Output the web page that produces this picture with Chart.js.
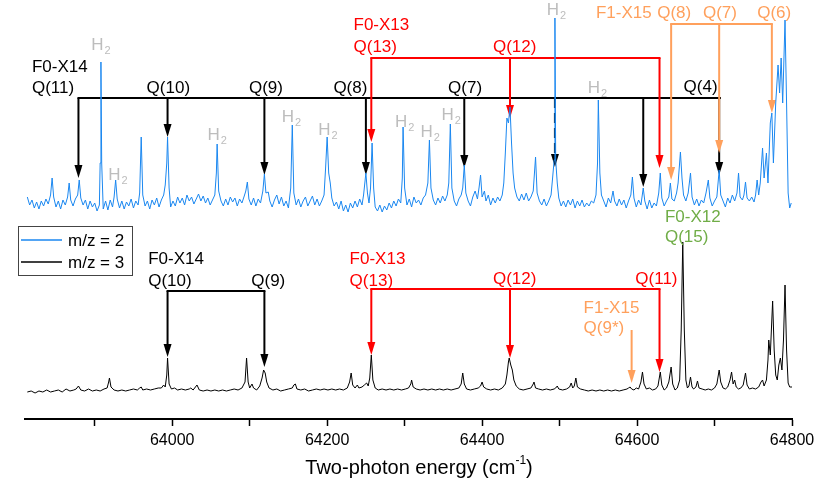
<!DOCTYPE html>
<html>
<head>
<meta charset="utf-8">
<script src="https://cdn.jsdelivr.net/npm/chart.js@4/dist/chart.umd.min.js"></script>
<style>
  html, body { margin: 0; padding: 0; background: #fff; }
  canvas { display: block; }
</style>
</head>
<body>
<canvas id="chart" width="830" height="494"></canvas>
<script>
// Two-photon REMPI scan. Energies in cm-1, signal in
// arbitrary units (baseline ~0). The m/z = 2 trace is stacked above m/z = 3.
const mz2Label = "m/z = 2";
const mz3Label = "m/z = 3";

const mz2Points = [
  [63813, 6], [63816, -2], [63819, 3], [63822, -5], [63825, 1], [63828, -6], [63831, 2], [63834, -3],
  [63837, 4], [63840, -1], [63843, 8], [63845, 25], [63847, 6], [63850, -4], [63853, 2], [63856, -6],
  [63859, 3], [63862, -2], [63865, 6], [63867, 20], [63869, 3], [63872, -3], [63875, 4], [63878, 8],
  [63880, 23], [63882, 5], [63885, -2], [63888, 3], [63891, -6], [63894, 2], [63897, -4], [63900, 0],
  [63903, -8], [63906, -2], [63907, 40], [63908, 141], [63909, 40], [63911, -6], [63914, 2], [63917, -7],
  [63920, 3], [63923, -4], [63925, 6], [63927, 23], [63929, 4], [63932, -5], [63935, 2], [63938, -6],
  [63941, 1], [63944, -3], [63947, 4], [63950, -5], [63953, 2], [63956, -2], [63958, 10], [63960, 66],
  [63962, 8], [63965, -3], [63968, 2], [63971, -6], [63974, 3], [63977, -2], [63980, 5], [63983, -4],
  [63986, 3], [63989, 8], [63991, 18], [63993, 40], [63994, 66], [63996, 15], [63998, -4], [64001, 2],
  [64004, -3], [64007, 6], [64010, 0], [64013, 5], [64016, -2], [64019, 8], [64022, 2], [64025, 6],
  [64028, -1], [64031, 4], [64034, 9], [64037, 2], [64040, 7], [64043, 0], [64046, 5], [64049, -2],
  [64052, 3], [64055, 8], [64057, 30], [64058, 59], [64060, 12], [64063, 2], [64066, -3], [64069, 4],
  [64072, -2], [64075, 6], [64078, 1], [64081, 5], [64084, -3], [64087, 4], [64090, 0], [64093, 7],
  [64095, 12], [64097, 21], [64099, 4], [64102, -2], [64105, 5], [64108, -3], [64111, 4], [64114, 0],
  [64117, 12], [64119, 29], [64121, 10], [64124, 11], [64126, 2], [64129, -4], [64132, 3], [64135, 8],
  [64138, -1], [64141, 6], [64144, -3], [64147, 2], [64150, -5], [64153, 15], [64155, 78], [64157, 10],
  [64160, -2], [64163, 4], [64166, -4], [64169, 2], [64172, 6], [64175, -3], [64178, 2], [64181, 7],
  [64184, -2], [64187, 4], [64190, -3], [64193, 2], [64196, 8], [64198, 35], [64200, 66], [64202, 30],
  [64204, 20], [64206, 5], [64209, -3], [64212, 1], [64215, -6], [64218, 2], [64221, -8], [64224, -2],
  [64227, -9], [64230, 0], [64233, -5], [64236, 2], [64239, -4], [64242, 4], [64245, -2], [64247, 8],
  [64250, 30], [64252, 10], [64254, 0], [64256, 15], [64258, 60], [64260, 15], [64262, -4], [64265, -8],
  [64268, -2], [64271, -9], [64274, -3], [64277, -7], [64280, 0], [64283, -5], [64286, 2], [64289, -3],
  [64292, 4], [64295, 0], [64297, 25], [64298, 76], [64300, 15], [64303, -2], [64306, 4], [64309, -4],
  [64312, 6], [64315, 0], [64318, 3], [64321, -2], [64324, 5], [64327, 8], [64330, 20], [64332, 63],
  [64334, 15], [64337, 3], [64340, -2], [64343, 5], [64346, 0], [64349, 7], [64352, 2], [64355, 8],
  [64357, 20], [64359, 79], [64361, 15], [64364, 2], [64367, -3], [64370, 4], [64373, 8], [64375, 15],
  [64377, 38], [64379, 10], [64382, 2], [64385, -3], [64388, 6], [64391, 12], [64394, 4], [64396, 15],
  [64398, 28], [64400, 6], [64403, 12], [64405, 2], [64408, 8], [64411, -2], [64414, 5], [64417, 0],
  [64420, 6], [64423, 2], [64426, 8], [64428, 20], [64430, 50], [64432, 85], [64434, 80], [64436, 96],
  [64438, 60], [64440, 30], [64442, 15], [64445, 6], [64448, 2], [64451, 9], [64454, 3], [64457, 10],
  [64460, 2], [64463, 6], [64466, 12], [64469, 46], [64471, 10], [64474, 2], [64477, -2], [64480, 4],
  [64483, -3], [64486, 2], [64489, 8], [64491, 25], [64493, 43], [64494, 185], [64495, 43], [64497, 20],
  [64499, 5], [64502, -3], [64505, 2], [64508, -4], [64511, 3], [64514, -2], [64517, 4], [64520, -5],
  [64523, 2], [64526, -3], [64529, 3], [64532, -4], [64535, 0], [64538, -3], [64541, 2], [64544, 0],
  [64547, 8], [64549, 40], [64550, 103], [64552, 30], [64554, 8], [64557, 2], [64560, -4], [64563, 5],
  [64566, 0], [64569, 12], [64571, 2], [64574, -3], [64577, 4], [64580, -2], [64583, 3], [64586, -5],
  [64589, 2], [64592, 8], [64594, 26], [64596, 5], [64599, -4], [64602, 3], [64605, -2], [64608, 15],
  [64610, 2], [64613, -6], [64616, 3], [64619, -5], [64622, 0], [64625, -3], [64628, 10], [64630, 30],
  [64632, 5], [64635, -3], [64638, 2], [64641, 6], [64643, 20], [64645, 4], [64648, 2], [64651, 10],
  [64653, 20], [64656, 51], [64658, 25], [64660, 8], [64663, 2], [64666, 10], [64669, 30], [64671, 6],
  [64674, -2], [64677, 4], [64680, -3], [64683, 3], [64686, 0], [64689, 10], [64692, 23], [64694, 5],
  [64697, -3], [64700, 2], [64703, 6], [64706, 33], [64708, 8], [64711, 2], [64714, -4], [64717, 5],
  [64720, 0], [64723, 8], [64726, 2], [64729, 10], [64731, 30], [64733, 6], [64736, 3], [64738, 8],
  [64740, 21], [64742, 5], [64745, 2], [64748, 6], [64751, 1], [64753, 8], [64755, 23], [64757, 8],
  [64759, 20], [64762, 55], [64764, 25], [64767, 50], [64769, 20], [64772, 80], [64774, 90], [64776, 40],
  [64779, 100], [64782, 138], [64784, 110], [64786, 145], [64788, 100], [64791, 183], [64793, 100],
  [64795, 10], [64797, -5], [64799, 0],
];

const mz3Points = [
  [63813, -2], [63818, -1], [63823, -3], [63828, -1], [63833, -2], [63838, 0], [63843, -2], [63848, -1],
  [63853, 0], [63858, -2], [63863, 1], [63868, -1], [63873, 0], [63876, 1], [63879, 4], [63882, 0],
  [63887, -1], [63892, 1], [63897, -1], [63902, 0], [63907, -1], [63912, 1], [63916, 2], [63918, 8],
  [63919, 12], [63921, 3], [63925, 0], [63930, -1], [63935, 0], [63940, -1], [63945, 0], [63950, 1],
  [63955, 0], [63958, 2], [63960, 3], [63962, 0], [63967, 1], [63972, 0], [63977, 1], [63982, 2],
  [63986, 2], [63989, 5], [63991, 3], [63993, 15], [63994, 32], [63996, 6], [63999, 1], [64003, 2],
  [64007, 0], [64012, 1], [64017, 0], [64022, 1], [64024, 2], [64027, 0], [64032, 5], [64035, 0],
  [64040, -1], [64045, 0], [64050, -1], [64055, 0], [64060, -1], [64065, 0], [64070, -1], [64075, 0],
  [64080, 1], [64085, 0], [64090, 2], [64094, 8], [64096, 32], [64098, 8], [64100, 2], [64103, 6],
  [64105, 2], [64109, 0], [64113, 4], [64116, 12], [64118, 20], [64120, 17], [64122, 8], [64125, 2],
  [64130, 0], [64135, 1], [64140, -1], [64145, 0], [64150, 1], [64155, 2], [64157, 5], [64159, 6],
  [64161, 1], [64166, 0], [64171, 1], [64176, -1], [64181, 0], [64186, 1], [64191, 0], [64196, 1],
  [64201, 0], [64206, 1], [64211, 0], [64216, 1], [64221, 0], [64226, 2], [64229, 8], [64231, 17],
  [64233, 5], [64236, 2], [64239, 5], [64241, 2], [64245, 3], [64248, 5], [64251, 7], [64253, 4],
  [64255, 12], [64257, 35], [64259, 10], [64262, 2], [64266, 0], [64271, 1], [64276, 0], [64281, 1],
  [64286, 0], [64291, 1], [64296, 0], [64301, 1], [64305, 2], [64308, 6], [64309, 10], [64311, 3],
  [64315, 1], [64320, 0], [64325, 1], [64330, 0], [64335, 1], [64340, 0], [64345, 1], [64350, 0],
  [64355, 1], [64360, 0], [64365, 1], [64370, 2], [64373, 6], [64375, 17], [64377, 6], [64380, 1],
  [64385, 0], [64390, 1], [64395, 2], [64398, 4], [64400, 8], [64402, 3], [64406, 1], [64411, 0],
  [64416, 1], [64421, 0], [64426, 2], [64430, 6], [64432, 15], [64434, 28], [64435, 32], [64437, 25],
  [64439, 20], [64441, 10], [64444, 4], [64448, 1], [64453, 0], [64458, 1], [64463, 2], [64466, 6],
  [64467, 8], [64469, 2], [64473, 1], [64478, 0], [64483, 1], [64488, 0], [64493, 1], [64495, 2],
  [64497, 4], [64499, 1], [64504, 0], [64509, 1], [64513, 3], [64515, 7], [64517, 2], [64519, 4],
  [64521, 12], [64523, 3], [64527, 1], [64532, 0], [64537, -1], [64542, 0], [64547, -1], [64552, 0],
  [64557, -1], [64562, 0], [64567, -1], [64572, 0], [64577, -1], [64582, 0], [64587, 1], [64589, 2],
  [64591, 3], [64593, 1], [64596, 0], [64599, 2], [64602, 1], [64605, 8], [64607, 18], [64609, 6],
  [64612, 1], [64616, 2], [64620, 0], [64624, 1], [64627, 4], [64630, 18], [64632, 5], [64635, 0],
  [64638, 2], [64641, 8], [64644, 23], [64646, 6], [64649, 0], [64652, 2], [64655, 10], [64657, 60],
  [64659, 148], [64661, 60], [64663, 10], [64665, 2], [64667, 4], [64669, 13], [64671, 3], [64673, 1],
  [64676, 3], [64678, 9], [64680, 2], [64684, 1], [64688, 0], [64692, 1], [64696, 0], [64700, 2],
  [64703, 6], [64706, 20], [64708, 8], [64711, 2], [64714, 1], [64717, 3], [64720, 10], [64722, 18],
  [64724, 6], [64726, 10], [64728, 3], [64731, 1], [64734, 2], [64737, 5], [64740, 17], [64742, 5],
  [64745, 1], [64749, 2], [64753, 1], [64757, 3], [64760, 8], [64762, 10], [64764, 4], [64767, 10],
  [64769, 30], [64770, 50], [64772, 35], [64775, 89], [64777, 40], [64779, 15], [64781, 10], [64783, 25],
  [64785, 32], [64787, 20], [64789, 50], [64791, 105], [64793, 40], [64795, 7], [64797, 3], [64800, 3],
];

const xTickMarks = [63900, 64000, 64100, 64200, 64300, 64400, 64500, 64600, 64700, 64800];
const xTickValues = [64000, 64200, 64400, 64600, 64800];
const xTitle = "Two-photon energy (cm";
const xTitleSup = "-1";

// stacking offsets and annotation layout (plot units: 0 = axis line)
const MZ2_OFFSET = 216;
const MZ3_OFFSET = 29;

const BLACK = "#000000", RED = "#ff0000", ORANGE = "#ffa05c", GREEN = "#70ad47", GREY = "#bdbdbd";
const FONT = '"Liberation Sans", Arial, sans-serif';

// brackets: level line, then arrows [energy, tip, dashed]
const brackets = [
  { color: BLACK, level: 321, from: 63879, to: 64707,
    arrows: [[63879, 241], [63994, 282], [64119, 244], [64250, 244], [64377, 251], [64494, 252, true], [64608, 232], [64706, 244]] },
  { color: RED, level: 361, from: 64257, to: 64629,
    arrows: [[64257, 277], [64436, 301], [64629, 251]] },
  { color: ORANGE, level: 395, from: 64644, to: 64774,
    arrows: [[64644, 239], [64706, 266], [64774, 306]] },
  { color: BLACK, level: 128, from: 63994, to: 64119,
    arrows: [[63994, 62], [64119, 52]] },
  { color: RED, level: 130, from: 64257, to: 64629,
    arrows: [[64257, 64], [64436, 61], [64629, 47]] },
  { color: ORANGE, level: 89, from: 64593, to: 64593,
    arrows: [[64593, 36]] },
];

// labels: text, energy, level, colour, align
const labels = [
  ["F0-X14", 63819, 352, BLACK, "left"], ["Q(11)", 63819, 331, BLACK, "left"],
  ["Q(10)", 63995, 331, BLACK, "center"], ["Q(9)", 64121, 331, BLACK, "center"],
  ["Q(8)", 64230, 331, BLACK, "center"], ["Q(7)", 64378, 331, BLACK, "center"],
  ["Q(4)", 64682, 332, BLACK, "center"],
  ["F0-X13", 64234, 394, RED, "left"], ["Q(13)", 64234, 372, RED, "left"],
  ["Q(12)", 64442, 372, RED, "center"],
  ["F1-X15", 64547, 406, ORANGE, "left"], ["Q(8)", 64626, 406, ORANGE, "left"],
  ["Q(7)", 64707, 406, ORANGE, "center"], ["Q(6)", 64777, 406, ORANGE, "center"],
  ["F0-X14", 63969, 160, BLACK, "left"], ["Q(10)", 63969, 138, BLACK, "left"],
  ["Q(9)", 64124, 138, BLACK, "center"],
  ["F0-X13", 64229, 160, RED, "left"], ["Q(13)", 64229, 138, RED, "left"],
  ["Q(12)", 64442, 140, RED, "center"], ["Q(11)", 64625, 140, RED, "center"],
  ["F1-X15", 64531, 111, ORANGE, "left"], ["Q(9*)", 64531, 91, ORANGE, "left"],
  ["F0-X12", 64636, 202, GREEN, "left"], ["Q(15)", 64636, 182, GREEN, "left"],
];

// H2 lines in the m/z = 2 trace
const h2Marks = [
  [63908, 374], [63930, 244], [64058, 284], [64154, 302], [64201, 289],
  [64300, 297], [64333, 287], [64360, 304], [64496, 409], [64549, 331],
];

function drawArrow(ctx, x, yFrom, yTip, color, dashed) {
  const head = 13, half = 4;
  ctx.save();
  ctx.strokeStyle = color;
  ctx.fillStyle = color;
  ctx.lineWidth = 2;
  if (dashed) ctx.setLineDash([10, 5]);
  ctx.beginPath();
  ctx.moveTo(x, yFrom);
  ctx.lineTo(x, yTip - head + 1);
  ctx.stroke();
  ctx.setLineDash([]);
  ctx.beginPath();
  ctx.moveTo(x - half, yTip - head);
  ctx.lineTo(x + half, yTip - head);
  ctx.lineTo(x, yTip);
  ctx.closePath();
  ctx.fill();
  ctx.restore();
}

const annotations = {
  id: "annotations",
  beforeDatasetsDraw(chart) {
    const { ctx, scales: { x, y } } = chart;
    for (const b of brackets) {
      const level = y.getPixelForValue(b.level);
      if (b.from !== b.to) {
        ctx.save();
        ctx.strokeStyle = b.color;
        ctx.lineWidth = 2;
        ctx.beginPath();
        ctx.moveTo(x.getPixelForValue(b.from) - 1, level);
        ctx.lineTo(x.getPixelForValue(b.to) + 1, level);
        ctx.stroke();
        ctx.restore();
      }
      for (const [e, tip, dashed] of b.arrows) {
        drawArrow(ctx, x.getPixelForValue(e), level, y.getPixelForValue(tip), b.color, dashed);
      }
    }
  },
  afterDatasetsDraw(chart) {
    const { ctx, scales: { x, y } } = chart;
    ctx.save();
    ctx.textBaseline = "middle";
    ctx.font = `17px ${FONT}`;
    for (const [text, e, lv, color, align] of labels) {
      ctx.fillStyle = color;
      ctx.textAlign = align;
      ctx.fillText(text, x.getPixelForValue(e), y.getPixelForValue(lv));
    }
    // H2 tags with subscript
    ctx.fillStyle = GREY;
    ctx.textAlign = "left";
    for (const [e, lv] of h2Marks) {
      ctx.font = `17px ${FONT}`;
      const wH = ctx.measureText("H").width;
      ctx.font = `11px ${FONT}`;
      const w2 = ctx.measureText("2").width;
      const left = x.getPixelForValue(e) - (wH + w2 + 1) / 2;
      const cy = y.getPixelForValue(lv);
      ctx.font = `17px ${FONT}`;
      ctx.fillText("H", left, cy);
      ctx.font = `11px ${FONT}`;
      ctx.fillText("2", left + wH + 1, cy + 6);
    }
    ctx.restore();
  },
  afterDraw(chart) {
    const { ctx } = chart;
    ctx.save();
    // legend
    ctx.fillStyle = "#fff";
    ctx.fillRect(18, 226, 114, 50);
    ctx.strokeStyle = "#444";
    ctx.lineWidth = 1;
    ctx.strokeRect(18.5, 226.5, 114, 49);
    chart.data.datasets.forEach((ds, i) => {
      const cy = 240 + i * 22;
      ctx.strokeStyle = ds.borderColor;
      ctx.lineWidth = 1.5;
      ctx.beginPath();
      ctx.moveTo(21, cy);
      ctx.lineTo(62, cy);
      ctx.stroke();
      ctx.fillStyle = "#000";
      ctx.font = `17px ${FONT}`;
      ctx.textBaseline = "middle";
      ctx.textAlign = "left";
      ctx.fillText(ds.label, 68, cy + 1);
    });
    // axis title with superscript
    ctx.font = `20px ${FONT}`;
    const w1 = ctx.measureText(xTitle).width;
    ctx.font = `12px ${FONT}`;
    const w2 = ctx.measureText(xTitleSup).width;
    ctx.font = `20px ${FONT}`;
    const w3 = ctx.measureText(")").width;
    const left = 419 - (w1 + w2 + w3) / 2;
    ctx.fillStyle = "#000";
    ctx.textBaseline = "middle";
    ctx.textAlign = "left";
    ctx.fillText(xTitle, left, 468);
    ctx.font = `12px ${FONT}`;
    ctx.fillText(xTitleSup, left + w1, 461);
    ctx.font = `20px ${FONT}`;
    ctx.fillText(")", left + w1 + w2, 468);
    ctx.restore();
  },
};

new Chart(document.getElementById("chart"), {
  type: "line",
  data: {
    datasets: [
      { label: mz2Label, data: mz2Points.map(([e, v]) => ({ x: e, y: v + MZ2_OFFSET })),
        borderColor: "#1a87f0", borderWidth: 1, pointRadius: 0, tension: 0 },
      { label: mz3Label, data: mz3Points.map(([e, v]) => ({ x: e, y: v + MZ3_OFFSET })),
        borderColor: "#000000", borderWidth: 1, pointRadius: 0, tension: 0 },
    ],
  },
  options: {
    responsive: false,
    animation: false,
    devicePixelRatio: 1,
    layout: { padding: { left: 25, right: 38, top: 0, bottom: 0 } },
    plugins: { legend: { display: false }, tooltip: { enabled: false } },
    scales: {
      x: {
        type: "linear", min: 63810, max: 64800,
        border: { color: "#000", width: 2 },
        grid: { drawOnChartArea: false, drawTicks: true, tickLength: 7, tickWidth: 1.5, tickColor: "#000" },
        ticks: {
          autoSkip: false, maxRotation: 0, padding: 5,
          color: "#000", font: { family: FONT, size: 16 },
          callback: (v) => (xTickValues.includes(v) ? String(v) : ""),
        },
        afterBuildTicks: (s) => { s.ticks = xTickMarks.map((v) => ({ value: v })); },
        afterFit: (s) => { s.height = 75; },
      },
      y: { display: false, min: 0, max: 419 },
    },
  },
  plugins: [annotations],
});
</script>
</body>
</html>
